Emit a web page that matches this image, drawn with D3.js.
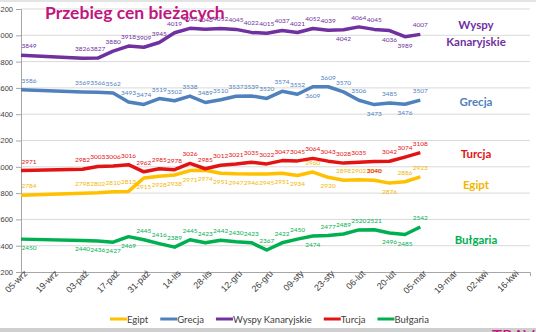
<!DOCTYPE html>
<html>
<head>
<meta charset="utf-8">
<script src="https://cdn.jsdelivr.net/npm/d3@7"></script>
<style>
  body { margin: 0; background: #fff; }
  svg { display: block; font-family: Lato, "Open Sans", sans-serif; }
</style>
</head>
<body>
<svg id="chart" width="536" height="332"></svg>
<script>
// Daty pomiarów (pierwszy pomiar, potem co tydzień)
const dates = ["2019-09-05", "2019-10-03", "2019-10-10", "2019-10-17", "2019-10-24", "2019-10-31",
  "2019-11-07", "2019-11-14", "2019-11-21", "2019-11-28", "2019-12-05", "2019-12-12",
  "2019-12-19", "2019-12-26", "2020-01-02", "2020-01-09", "2020-01-16", "2020-01-23",
  "2020-01-30", "2020-02-06", "2020-02-13", "2020-02-20", "2020-02-27", "2020-03-05"];

// Etykiety osi X (co dwa tygodnie)
const tickLabels = ["05-wrz", "19-wrz", "03-paź", "17-paź", "31-paź", "14-lis", "28-lis", "12-gru",
  "26-gru", "09-sty", "23-sty", "06-lut", "20-lut", "05-mar", "19-mar", "02-kwi", "16-kwi"];
const yTicks = [2200, 2400, 2600, 2800, 3000, 3200, 3400, 3600, 3800, 4000, 4200];

// Ceny
const egipt = [2784, 2798, 2802, 2810, 2813, 2915, 2928, 2938, 2971, 2974, 2951, 2947,
  2946, 2945, 2951, 2934, 2960, 2920, 2898, 2902, 2898, 2876, 2886, 2923];
const grecja = [3586, 3569, 3566, 3562, 3493, 3474, 3519, 3502, 3538, 3489, 3510, 3537,
  3539, 3520, 3574, 3552, 3609, 3609, 3570, 3506, 3473, 3485, 3476, 3507];
const wyspy = [3849, 3826, 3827, 3880, 3918, 3909, 3945, 4019, 4053, 4046, 4052, 4045,
  4022, 4015, 4037, 4021, 4052, 4039, 4042, 4064, 4045, 4036, 3989, 4007];
const turcja = [2971, 2982, 3003, 3006, 3016, 2962, 2985, 2978, 3026, 2985, 3012, 3021,
  3035, 3022, 3047, 3045, 3064, 3043, 3028, 3035, 3040, 3042, 3074, 3108];
const bulgaria = [2450, 2440, 2436, 2427, 2469, 2445, 2416, 2389, 2445, 2423, 2442, 2430,
  2423, 2367, 2422, 2450, 2474, 2477, 2489, 2520, 2521, 2496, 2485, 2542];

const parseDate = d3.timeParse("%Y-%m-%d");
const days = dates.map(parseDate);
const firstDay = parseDate("2019-09-05");
const tickDays = tickLabels.map((t, i) => d3.timeDay.offset(firstDay, 14 * i));

// Serie: kolor linii, kolor etykiet, indeksy etykiet pod linią, podpis z prawej
const series = [
  { name: "Egipt", values: egipt, color: "#ffc000", labelColor: "#f2b700",
    below: [5, 6, 7, 8, 9, 10, 11, 12, 13, 14, 15, 17, 21], tag: ["Egipt"], tagY: 189 },
  { name: "Grecja", values: grecja, color: "#4f81bd", labelColor: "#4f81bd",
    below: [16, 20, 22], tag: ["Grecja"], tagY: 106 },
  { name: "Wyspy Kanaryjskie", values: wyspy, color: "#7030a0", labelColor: "#7030a0",
    below: [18, 21, 22], tag: ["Wyspy", "Kanaryjskie"], tagY: 29 },
  { name: "Turcja", values: turcja, color: "#e41313", labelColor: "#e41313",
    below: [20], tag: ["Turcja"], tagY: 158 },
  { name: "Bułgaria", values: bulgaria, color: "#00b050", labelColor: "#00b050",
    below: [0, 1, 2, 3, 4, 16, 21, 22], tag: ["Bułgaria"], tagY: 244 }
];

const svg = d3.select("#chart");

const x = d3.scaleTime()
  .domain([firstDay, parseDate("2020-04-24")])
  .range([21, 530]);
const y = d3.scaleLinear()
  .domain([2200, 4200])
  .range([272, 9]);

// Ramka u góry i u dołu
svg.append("rect").attr("x", 0).attr("y", 0).attr("width", 536).attr("height", 2).attr("fill", "#e4e4e4");
svg.append("rect").attr("x", 0).attr("y", 328).attr("width", 536).attr("height", 4).attr("fill", "#cfcfcf");

// Siatka pozioma
svg.append("g")
  .selectAll("line")
  .data(yTicks.slice(1))
  .join("line")
  .attr("x1", 21).attr("x2", 530)
  .attr("y1", d => y(d)).attr("y2", d => y(d))
  .attr("stroke", "#d9d9d9")
  .attr("stroke-width", 1);

// Oś Y
const yAxis = svg.append("g")
  .attr("transform", "translate(21,0)")
  .call(d3.axisLeft(y).tickValues(yTicks).tickSize(5).tickPadding(3).tickFormat(d3.format("d")));
yAxis.select(".domain").attr("stroke", "#a6a6a6");
yAxis.selectAll(".tick line").attr("stroke", "#a6a6a6");
yAxis.selectAll("text").attr("font-size", 7.5).attr("fill", "#404040");

// Oś X
const xAxis = svg.append("g")
  .attr("transform", "translate(0,272)")
  .call(d3.axisBottom(x).tickValues(tickDays).tickSize(4).tickFormat((d, i) => tickLabels[i]));
xAxis.select(".domain").attr("stroke", "#a6a6a6");
xAxis.selectAll(".tick line").attr("stroke", "#a6a6a6");
xAxis.selectAll("text")
  .attr("font-size", 9)
  .attr("fill", "#404040")
  .attr("text-anchor", "end")
  .attr("dy", null)
  .attr("y", 6)
  .attr("x", 3)
  .attr("transform", "rotate(-45)");

// Linie
const line = d3.line()
  .x((d, i) => x(days[i]))
  .y(d => y(d));

series.forEach(s => {
  svg.append("path")
    .datum(s.values)
    .attr("fill", "none")
    .attr("stroke", s.color)
    .attr("stroke-width", 3.5)
    .attr("stroke-linejoin", "round")
    .attr("d", line);
});

// Etykiety wartości
series.forEach(s => {
  svg.append("g")
    .selectAll("text")
    .data(s.values)
    .join("text")
    .attr("x", (d, i) => x(days[i]) + (i === 0 ? 8 : 0))
    .attr("y", (d, i) => y(d) + (s.below.includes(i) ? 11 : -7))
    .attr("text-anchor", "middle")
    .attr("font-size", 6.5)
    .attr("fill", s.labelColor)
    .text(d => d);
});

// Podpisy serii po prawej
series.forEach(s => {
  svg.append("text")
    .attr("x", 476)
    .attr("y", s.tagY)
    .attr("text-anchor", "middle")
    .attr("font-size", 11.5)
    .attr("font-weight", "bold")
    .attr("fill", s.color === "#ffc000" ? "#f2b700" : s.color)
    .selectAll("tspan")
    .data(s.tag)
    .join("tspan")
    .attr("x", 476)
    .attr("dy", (d, i) => i === 0 ? 0 : 17)
    .text(d => d);
});

// Tytuł
svg.append("text")
  .attr("x", 45)
  .attr("y", 19)
  .attr("font-size", 17.5)
  .attr("font-weight", "bold")
  .attr("fill", "#c0167e")
  .text("Przebieg cen bieżących");

// Legenda
const legend = svg.append("g").attr("transform", "translate(110,319)");
let lx = 0;
series.forEach(s => {
  const g = legend.append("g").attr("transform", `translate(${lx},0)`);
  g.append("line").attr("x1", 0).attr("x2", 17).attr("y1", 0).attr("y2", 0)
    .attr("stroke", s.color).attr("stroke-width", 3);
  const t = g.append("text").attr("x", 17).attr("y", 3.5)
    .attr("font-size", 9.5).attr("fill", "#404040").text(s.name);
  lx += 17 + t.node().getComputedTextLength() + 12;
});

// Logo w rogu
svg.append("text")
  .attr("x", 492)
  .attr("y", 343)
  .attr("font-size", 17)
  .attr("fill", "#c0167e")
  .text("TRAV");
</script>
</body>
</html>
